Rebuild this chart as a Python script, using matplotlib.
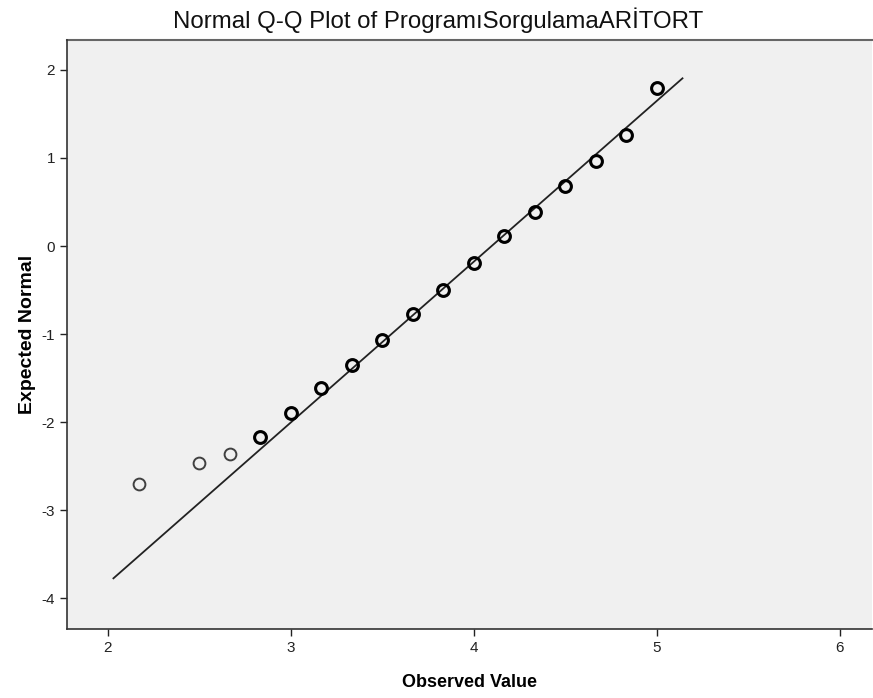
import matplotlib
matplotlib.use("Agg")
import matplotlib.pyplot as plt

plt.rcParams['font.family'] = ['Liberation Sans', 'DejaVu Sans']
plt.rcParams['axes.unicode_minus'] = False

observed = [2.167, 2.5, 2.667, 2.833, 3.0, 3.167, 3.333, 3.5, 3.667,
            3.833, 4.0, 4.167, 4.333, 4.5, 4.667, 4.833, 5.0]
expected = [-2.70, -2.47, -2.36, -2.17, -1.90, -1.61, -1.35, -1.07, -0.77,
            -0.50, -0.19, 0.11, 0.39, 0.68, 0.97, 1.26, 1.80]
# single observations drawn lighter
single = [True, True, True, False, False, False, False, False, False,
          False, False, False, False, False, False, False, False]

# reference line: z = (x - mean) / sd
line_mean = 4.097
line_sd = 0.5476
line_x = [2.03, 5.14]

fig = plt.figure(figsize=(8.73, 6.98), dpi=100)
ax = fig.add_axes([0.0767, 0.0989, 0.922, 0.8438])
ax.set_facecolor('#f0f0f0')

ax.plot(line_x, [(v - line_mean) / line_sd for v in line_x],
        color='#222222', lw=1.3, zorder=2)

for xv, yv, s in zip(observed, expected, single):
    if s:
        ax.plot(xv, yv, 'o', ms=8.5, mfc='none', mec='#404040', mew=1.4, zorder=3)
    else:
        ax.plot(xv, yv, 'o', ms=8.5, mfc='none', mec='black', mew=2.2, zorder=3)

ax.set_xlim(1.776, 6.175)
ax.set_ylim(-4.35, 2.34)
ax.set_xticks([2, 3, 4, 5, 6])
ax.set_yticks([-4, -3, -2, -1, 0, 1, 2])
ax.tick_params(direction='out', length=5, width=1, labelsize=11, colors='#222222')

for side in ['top', 'right']:
    ax.spines[side].set_visible(False)
for side in ['left', 'bottom']:
    ax.spines[side].set_color('#333333')
    ax.spines[side].set_linewidth(1.2)
ax.axhline(2.34, color='#666666', lw=1.5, clip_on=False)

fig.text(438 / 873, 1 - 20 / 698, 'Normal Q-Q Plot of ProgramıSorgulamaARİTORT',
         fontsize=17.3, ha='center', va='center', color='#111111')
ax.set_xlabel('Observed Value', fontsize=13, fontweight='bold', labelpad=14)
ax.set_ylabel('Expected Normal', fontsize=14, fontweight='bold', labelpad=4)

fig.savefig('out.png', dpi=100)
